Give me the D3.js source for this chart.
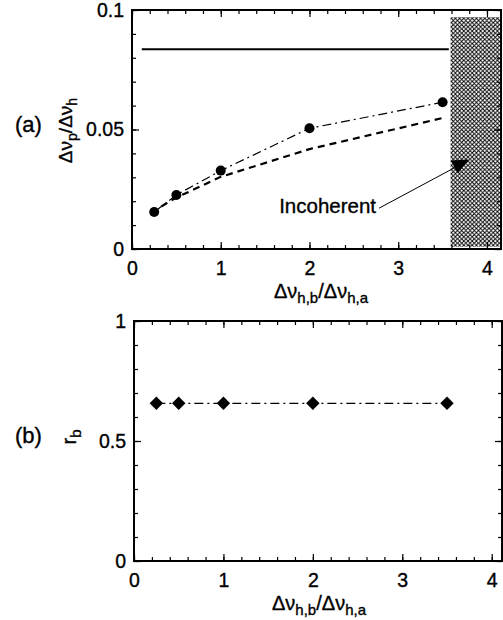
<!DOCTYPE html>
<html>
<head>
<meta charset="utf-8">
<script src="https://cdn.jsdelivr.net/npm/d3@7"></script>
<style>
  body { margin: 0; background: #fff; }
  svg { font-family: "Liberation Sans", Arial, sans-serif; }
  svg text { stroke: #000; stroke-width: 0.35px; }
  .frame path.domain { display: none; }
  .tick line { stroke: #000; stroke-width: 1.2; }
  .tick text { font-size: 19.5px; fill: #000; }
</style>
</head>
<body>
<div id="chart"></div>
<script>
// ratio of homogeneous linewidths (x) shared by both panels
const ratio = [0.25, 0.5, 1, 2, 3.5];
// panel (a): measured pump linewidth ratio (circles, dash-dot)
const dvMeasured = [0.0155, 0.0226, 0.0328, 0.0505, 0.0614];
// panel (a): model curve (dashed)
const modelX = [0.33, 0.5, 1, 2, 3.5];
const dvModel = [0.0178, 0.0215, 0.0302, 0.0418, 0.0548];
// panel (a): solid horizontal limit
const limitX = [0.11, 3.57];
const limitY = 0.0836;
// panel (a): incoherent region
const incoherent = {x0: 3.59, x1: 4.16, y0: 0.001, y1: 0.097};
const note = {text: "Incoherent", tx: 2.75, ty: 0.0175, ax: 3.66, ay: 0.0345};
// panel (b): r_b values (diamonds)
const rb = [0.657, 0.657, 0.657, 0.657, 0.657];

const xTickVals = [0, 1, 2, 3, 4];
const xMinorVals = d3.range(0, 4.21, 0.2);
const yaTickVals = [0, 0.05, 0.1];
const yaTickLabels = ["0", "0.05", "0.1"];
const yaMinorVals = d3.range(0, 0.1001, 0.01);
const ybTickVals = [0, 0.5, 1];
const ybTickLabels = ["0", "0.5", "1"];
const ybMinorVals = d3.range(0, 1.001, 0.1);

const svg = d3.select("#chart").append("svg")
    .attr("width", 503)
    .attr("height", 620);

const defs = svg.append("defs");
const pat = defs.append("pattern")
    .attr("id", "hatch")
    .attr("patternUnits", "userSpaceOnUse")
    .attr("width", 4.2).attr("height", 4.2);
pat.append("rect").attr("width", 4.2).attr("height", 4.2).attr("fill", "#fff");
pat.append("path").attr("d", "M0,0L4.2,4.2M4.2,0L0,4.2")
    .attr("stroke", "#000").attr("stroke-width", 0.9);

function frame(g, x, y, yMajor, yLabels, yMinor, w, h) {
  const mk = (axis, vals, size, fmt, pad) => axis.tickValues(vals).tickSize(size).tickPadding(pad).tickFormat(fmt);
  g.append("g").attr("class", "frame").attr("transform", "translate(0," + h + ")")
    .call(mk(d3.axisBottom(x), xMinorVals, -4, "", 12));
  g.append("g").attr("class", "frame").attr("transform", "translate(0," + h + ")")
    .call(mk(d3.axisBottom(x), xTickVals, -7, d3.format("d"), 12));
  g.append("g").attr("class", "frame")
    .call(mk(d3.axisTop(x), xMinorVals, -4, "", 8));
  g.append("g").attr("class", "frame")
    .call(mk(d3.axisTop(x), xTickVals, -7, "", 8));
  g.append("g").attr("class", "frame")
    .call(mk(d3.axisLeft(y), yMinor, -4, "", 8));
  g.append("g").attr("class", "frame")
    .call(mk(d3.axisLeft(y), yMajor, -7, (d, i) => yLabels[i], 8));
  g.append("g").attr("class", "frame").attr("transform", "translate(" + w + ",0)")
    .call(mk(d3.axisRight(y), yMinor, -4, "", 8));
  g.append("g").attr("class", "frame").attr("transform", "translate(" + w + ",0)")
    .call(mk(d3.axisRight(y), yMajor, -7, "", 8));
  g.append("rect").attr("width", w).attr("height", h)
    .attr("fill", "none").attr("stroke", "#000").attr("stroke-width", 2);
}

function xTitle(g, cx, cy) {
  const t = g.append("text").attr("x", cx).attr("y", cy)
      .attr("text-anchor", "middle").style("font-size", "20px");
  t.append("tspan").text("Δν");
  t.append("tspan").attr("dy", 5).style("font-size", "15px").text("h,b");
  t.append("tspan").attr("dy", -5).text("/Δν");
  t.append("tspan").attr("dy", 5).style("font-size", "15px").text("h,a");
}

// ---------- panel (a)
const wa = 369, ha = 239;
const ga = svg.append("g").attr("transform", "translate(132,10)");
const xa = d3.scaleLinear().domain([0, 4.158]).range([0, wa]);
const ya = d3.scaleLinear().domain([0, 0.1]).range([ha, 0]);

ga.append("rect")
    .attr("x", xa(incoherent.x0)).attr("y", ya(incoherent.y1))
    .attr("width", xa(incoherent.x1) - xa(incoherent.x0))
    .attr("height", ya(incoherent.y0) - ya(incoherent.y1))
    .attr("fill", "url(#hatch)");

frame(ga, xa, ya, yaTickVals, yaTickLabels, yaMinorVals, wa, ha);

ga.append("line")
    .attr("x1", xa(limitX[0])).attr("x2", xa(limitX[1]))
    .attr("y1", ya(limitY)).attr("y2", ya(limitY))
    .attr("stroke", "#000").attr("stroke-width", 2);

ga.append("path")
    .datum(modelX.map((d, i) => [d, dvModel[i]]))
    .attr("d", d3.line().x(d => xa(d[0])).y(d => ya(d[1])))
    .attr("fill", "none").attr("stroke", "#000").attr("stroke-width", 2.2)
    .attr("stroke-dasharray", "7,5");

ga.append("path")
    .datum(ratio.map((d, i) => [d, dvMeasured[i]]))
    .attr("d", d3.line().x(d => xa(d[0])).y(d => ya(d[1])))
    .attr("fill", "none").attr("stroke", "#000").attr("stroke-width", 1.2)
    .attr("stroke-dasharray", "9,4,2,4");

ga.selectAll(".pt")
    .data(ratio.map((d, i) => [d, dvMeasured[i]]))
    .enter().append("circle")
    .attr("cx", d => xa(d[0])).attr("cy", d => ya(d[1]))
    .attr("r", 5).attr("fill", "#000");

ga.append("text")
    .attr("x", xa(note.tx)).attr("y", ya(note.ty) + 6)
    .attr("text-anchor", "end").style("font-size", "20.5px")
    .text(note.text);
ga.append("line")
    .attr("x1", xa(note.tx) + 3).attr("y1", ya(note.ty) + 1)
    .attr("x2", xa(note.ax)).attr("y2", ya(note.ay))
    .attr("stroke", "#000").attr("stroke-width", 1);
ga.append("path")
    .attr("transform", "translate(" + xa(note.ax) + "," + ya(note.ay) + ")")
    .attr("d", "M-6,-6L12,-7L1,7Z").attr("fill", "#000");

ga.append("text").attr("x", -117).attr("y", 122)
    .style("font-size", "22px").text("(a)");
const yla = ga.append("text")
    .attr("transform", "translate(-60," + (ha / 2 + 1) + ") rotate(-90)")
    .attr("text-anchor", "middle").style("font-size", "19px");
yla.append("tspan").text("Δν");
yla.append("tspan").attr("dy", 5).style("font-size", "14px").text("p");
yla.append("tspan").attr("dy", -5).text("/Δν");
yla.append("tspan").attr("dy", 5).style("font-size", "14px").text("h");

xTitle(ga, 189, 288);

// ---------- panel (b)
const wb = 368, hb = 240;
const gb = svg.append("g").attr("transform", "translate(134,321)");
const xb = d3.scaleLinear().domain([0, 4.115]).range([0, wb]);
const yb = d3.scaleLinear().domain([0, 1]).range([hb, 0]);

frame(gb, xb, yb, ybTickVals, ybTickLabels, ybMinorVals, wb, hb);

gb.append("path")
    .datum(ratio.map((d, i) => [d, rb[i]]))
    .attr("d", d3.line().x(d => xb(d[0])).y(d => yb(d[1])))
    .attr("fill", "none").attr("stroke", "#000").attr("stroke-width", 1.2)
    .attr("stroke-dasharray", "9,4,2,4");

gb.selectAll(".pt")
    .data(ratio.map((d, i) => [d, rb[i]]))
    .enter().append("path")
    .attr("transform", d => "translate(" + xb(d[0]) + "," + yb(d[1]) + ")")
    .attr("d", d3.symbol(d3.symbolDiamond2, 115))
    .attr("fill", "#000");

gb.append("text").attr("x", -119).attr("y", 122)
    .style("font-size", "22px").text("(b)");
const ylb = gb.append("text")
    .attr("transform", "translate(-58," + (hb / 2 - 4) + ") rotate(-90)")
    .attr("text-anchor", "middle").style("font-size", "20px");
ylb.append("tspan").text("r");
ylb.append("tspan").attr("dy", 5).style("font-size", "15px").text("b");

xTitle(gb, 185, 289);
</script>
</body>
</html>
